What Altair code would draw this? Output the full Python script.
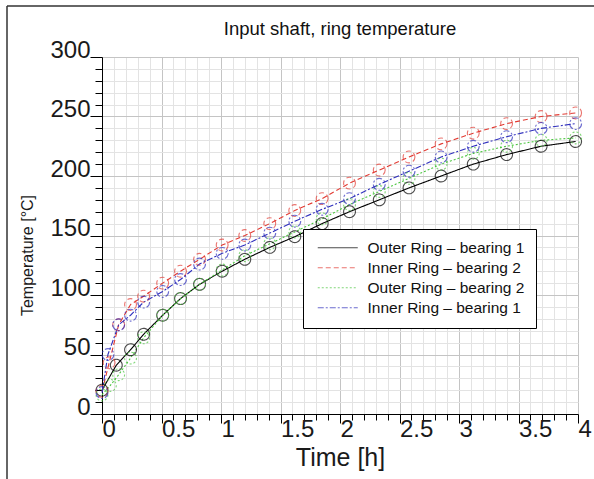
import altair as alt
import pandas as pd

# ---- data ----
series_names = ["Outer Ring – bearing 1", "Inner Ring – bearing 2",
                "Outer Ring – bearing 2", "Inner Ring – bearing 1"]
series_colors = ["#000000", "#e23a32", "#4cc640", "#2f2fbd"]
series_dashes = [[1, 0], [5, 3], [2, 2], [6, 2, 2, 2]]

t_outer1 = [0, 0.12, 0.24, 0.35, 0.51, 0.66, 0.82, 1.01, 1.20, 1.41, 1.62,
            1.85, 2.08, 2.33, 2.58, 2.85, 3.12, 3.40, 3.69, 3.98]
temp_outer1 = [20, 41, 54, 67, 83, 97, 109, 120, 130, 140, 149,
               160, 170, 180, 190, 200, 210, 218, 225, 229]

t_inner2 = [0, 0.06, 0.14, 0.24, 0.35, 0.51, 0.66, 0.82, 1.01, 1.20, 1.41,
            1.62, 1.85, 2.08, 2.33, 2.58, 2.85, 3.12, 3.40, 3.69, 3.98]
temp_inner2 = [19, 43, 75, 92, 99, 110, 120, 130, 142, 150, 160,
               171, 181, 194, 205, 216, 227, 236, 244, 250, 253]

t_outer2 = [0, 0.07, 0.14, 0.24, 0.35, 0.51, 0.66, 0.82, 1.01, 1.20, 1.41,
            1.62, 1.85, 2.08, 2.33, 2.58, 2.85, 3.12, 3.40, 3.69, 3.98]
temp_outer2 = [16, 24, 33, 47, 64, 83, 97, 109, 121, 133, 143,
               153, 164, 176, 187, 198, 210, 219, 225, 230, 232]

t_inner1 = [0, 0.05, 0.14, 0.24, 0.35, 0.51, 0.66, 0.82, 1.01, 1.20, 1.41,
            1.62, 1.85, 2.08, 2.33, 2.58, 2.85, 3.12, 3.40, 3.69, 3.98]
temp_inner1 = [18, 50, 75, 83, 94, 103, 113, 126, 135, 142, 152,
               162, 172, 181, 193, 204, 216, 225, 233, 240, 244]

x_ticks = [0, 0.1, 0.2, 0.3, 0.4, 0.5, 0.6, 0.7, 0.8, 0.9, 1, 1.1, 1.2, 1.3, 1.4,
           1.5, 1.6, 1.7, 1.8, 1.9, 2, 2.1, 2.2, 2.3, 2.4, 2.5, 2.6, 2.7, 2.8, 2.9,
           3, 3.1, 3.2, 3.3, 3.4, 3.5, 3.6, 3.7, 3.8, 3.9, 4]
y_ticks = [0, 10, 20, 30, 40, 50, 60, 70, 80, 90, 100, 110, 120, 130, 140, 150,
           160, 170, 180, 190, 200, 210, 220, 230, 240, 250, 260, 270, 280, 290, 300]

rows = []
for name, ts, vs in [(series_names[0], t_outer1, temp_outer1),
                     (series_names[1], t_inner2, temp_inner2),
                     (series_names[2], t_outer2, temp_outer2),
                     (series_names[3], t_inner1, temp_inner1)]:
    for t, v in zip(ts, vs):
        rows.append({"series": name, "time": t, "temp": v})
df = pd.DataFrame(rows)

FONT = "Liberation Sans"

x_major = "abs(datum.value*2 - round(datum.value*2)) < 0.001"
y_major = "abs(datum.value/50 - round(datum.value/50)) < 0.001"

x_axis = alt.Axis(
    values=x_ticks, title="Time [h]", grid=True,
    gridColor={"condition": {"test": x_major, "value": "#c4c4c4"}, "value": "#e3e3e3"},
    gridWidth=1,
    tickSize={"condition": {"test": x_major, "value": 9}, "value": 6},
    tickColor="#000", domainColor="#000", tickWidth=1,
    labelExpr="(" + x_major + ") ? toString(round(datum.value*2)/2) : ''",
    labelOverlap=False, labelFlush=False, labelFont=FONT, labelFontSize=24,
    labelColor="#1a1a1a", labelAlign="left", labelBaseline="top", labelPadding=-6,
    titleFont=FONT, titleFontSize=25, titleFontWeight="normal", titleColor="#1a1a1a",
    titlePadding=4,
)
y_axis = alt.Axis(
    values=y_ticks, title="Temperature [°C]", grid=True,
    gridColor={"condition": {"test": y_major, "value": "#c4c4c4"}, "value": "#e3e3e3"},
    gridWidth=1,
    tickSize={"condition": {"test": y_major, "value": 12}, "value": 7},
    tickColor="#000", domainColor="#000", tickWidth=1,
    labelExpr="(" + y_major + ") ? toString(datum.value) : ''",
    labelOverlap=False, labelFlush=False, labelFont=FONT, labelFontSize=24,
    labelColor="#1a1a1a", labelAlign="right", labelBaseline="alphabetic", labelPadding=0,
    titleFont=FONT, titleFontSize=16, titleFontWeight="normal", titleColor="#1a1a1a",
    titleX=-67, titleY=198, titleBaseline="bottom",
)

x_enc = alt.X("time:Q", scale=alt.Scale(domain=[0, 4], nice=False), axis=x_axis)
y_enc = alt.Y("temp:Q", scale=alt.Scale(domain=[0, 300], nice=False), axis=y_axis)
color_scale = alt.Scale(domain=series_names, range=series_colors)
dash_scale = alt.Scale(domain=series_names, range=series_dashes)

legend = alt.Legend(
    title=None, orient="none", legendX=201, legendY=172,
    symbolType="M-1,0H9", symbolSize=64, symbolStrokeWidth=1.2,
    labelFont=FONT, labelFontSize=15.5, labelColor="#111", labelOffset=38,
    fillColor="white", strokeColor="#000", padding=11, rowPadding=3,
)

lines = alt.Chart(df).mark_line(strokeWidth=1.1).encode(
    x=x_enc, y=y_enc,
    color=alt.Color("series:N", scale=color_scale, legend=legend, sort=series_names),
    strokeDash=alt.StrokeDash("series:N", scale=dash_scale, legend=legend, sort=series_names),
    detail="series:N",
)
points = alt.Chart(df).mark_point(shape="circle", filled=False, size=140, strokeWidth=1.1).encode(
    x=x_enc, y=y_enc,
    color=alt.Color("series:N", scale=color_scale, legend=legend, sort=series_names),
    strokeDash=alt.StrokeDash("series:N", scale=dash_scale, legend=legend, sort=series_names),
)

frame_df = pd.DataFrame({"a": [0]})
frame_top = alt.Chart(frame_df).mark_rule(color="#333", strokeWidth=1.5).encode(
    x=alt.value(-95), x2=alt.value(500), y=alt.value(-51))
frame_left = alt.Chart(frame_df).mark_rule(color="#333", strokeWidth=1.5).encode(
    x=alt.value(-95), y=alt.value(-51), y2=alt.value(430))

chart = alt.layer(lines, points, frame_top, frame_left).properties(
    width=476, height=357,
    autosize="none",
    padding={"left": 102, "top": 57, "right": 16, "bottom": 65},
    title=alt.TitleParams("Input shaft, ring temperature", font=FONT, fontSize=18.5,
                          fontWeight="normal", color="#111", anchor="middle",
                          offset=0, dy=33),
).configure_view(stroke=None)

chart.save("out.html", embed_options={"renderer": "svg", "actions": False})
